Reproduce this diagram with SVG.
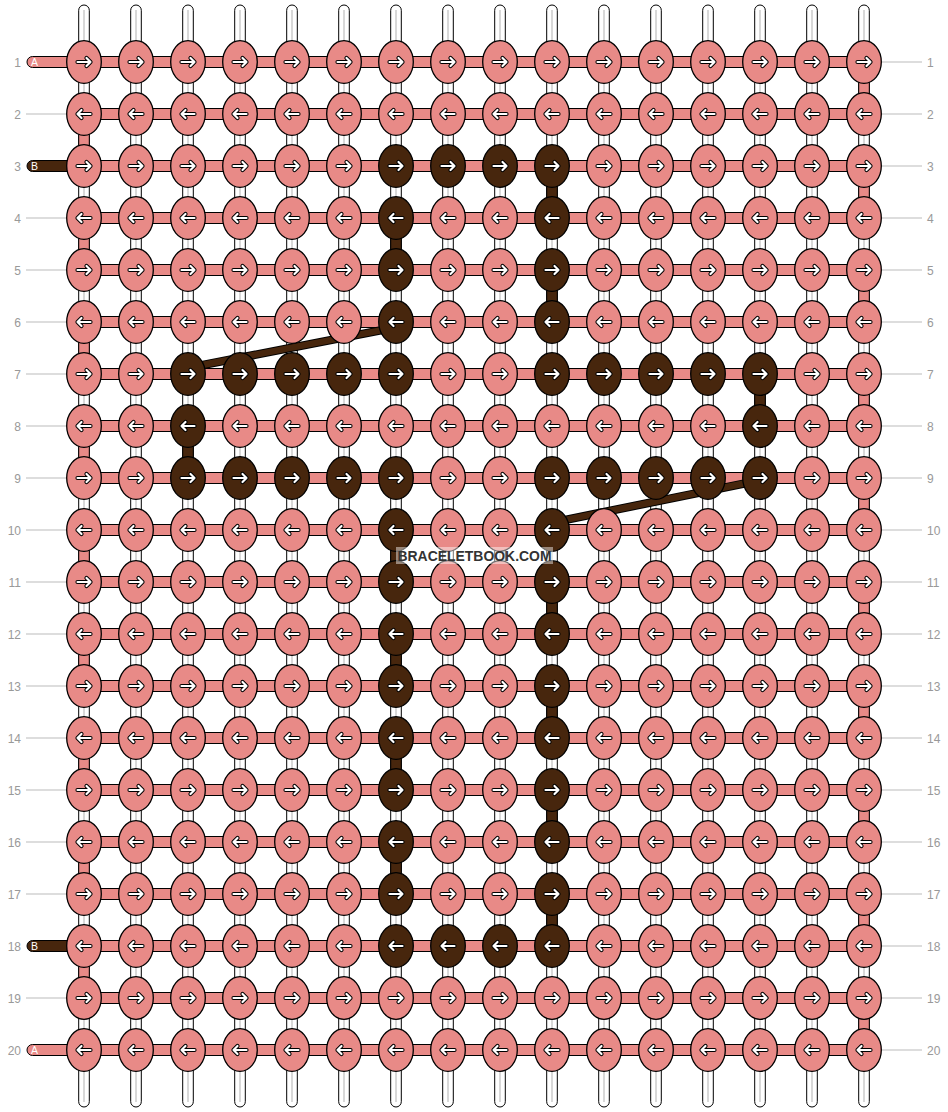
<svg xmlns="http://www.w3.org/2000/svg" xmlns:xlink="http://www.w3.org/1999/xlink" width="948" height="1112" viewBox="0 0 948 1112">
<style>
.kp{fill:#e88a87;stroke:#000;stroke-width:1.3}
.kd{fill:#47260d;stroke:#000;stroke-width:1.3}
.hc{fill:#e88a87;stroke:#000;stroke-width:1}
.vp{fill:#e88a87;stroke:#000;stroke-width:1}
.vd{fill:#47260d;stroke:#000;stroke-width:1}
.wr{fill:#fff;stroke:#000;stroke-width:1}
.wl{stroke:#c8c8c8;stroke-width:1.4}
.gl{stroke:#bbb;stroke-width:1}
.num{font-family:"Liberation Sans",Arial,sans-serif;font-size:12px;fill:#999}
.let{font-family:"Liberation Sans",Arial,sans-serif;font-size:10.5px;fill:#fff}
.ao{fill:none;stroke:#000;stroke-width:4.2;stroke-linecap:round;stroke-linejoin:round}
.ai{fill:none;stroke:#fff;stroke-width:2.2;stroke-linecap:round;stroke-linejoin:round}
</style>
<defs>
<g id="ar"><path class="ao" d="M-6.5,0H6.5M2.5,-4L6.5,0L2.5,4"/><path class="ai" d="M-6.5,0H6.5M2.5,-4L6.5,0L2.5,4"/></g>
<g id="al"><use xlink:href="#ar" transform="scale(-1,1)"/></g>
<g id="pr"><ellipse class="kp" rx="17.3" ry="21.3"/><use xlink:href="#ar"/></g>
<g id="pl"><ellipse class="kp" rx="17.3" ry="21.3"/><use xlink:href="#al"/></g>
<g id="dr"><ellipse class="kd" rx="17.3" ry="21.3"/><use xlink:href="#ar"/></g>
<g id="dl"><ellipse class="kd" rx="17.3" ry="21.3"/><use xlink:href="#al"/></g>
<g id="wp"><rect class="wr" x="-5.3" y="5" width="10.6" height="1102" rx="5.3"/><line class="wl" x1="0" y1="10" x2="0" y2="1102"/></g>
</defs>
<rect width="948" height="1112" fill="#fff"/>
<g id="warps">
<use xlink:href="#wp" x="84"/><use xlink:href="#wp" x="136"/><use xlink:href="#wp" x="188"/><use xlink:href="#wp" x="240"/><use xlink:href="#wp" x="292"/><use xlink:href="#wp" x="344"/><use xlink:href="#wp" x="396"/><use xlink:href="#wp" x="448"/><use xlink:href="#wp" x="500"/><use xlink:href="#wp" x="552"/><use xlink:href="#wp" x="604"/><use xlink:href="#wp" x="656"/><use xlink:href="#wp" x="708"/><use xlink:href="#wp" x="760"/><use xlink:href="#wp" x="812"/><use xlink:href="#wp" x="864"/>
</g>
<g id="labels">
<g class="gl">
<line x1="26" y1="114" x2="67" y2="114"/><line x1="26" y1="218" x2="67" y2="218"/><line x1="26" y1="270" x2="67" y2="270"/><line x1="26" y1="322" x2="67" y2="322"/><line x1="26" y1="374" x2="67" y2="374"/><line x1="26" y1="426" x2="67" y2="426"/><line x1="26" y1="478" x2="67" y2="478"/><line x1="26" y1="530" x2="67" y2="530"/><line x1="26" y1="582" x2="67" y2="582"/><line x1="26" y1="634" x2="67" y2="634"/><line x1="26" y1="686" x2="67" y2="686"/><line x1="26" y1="738" x2="67" y2="738"/><line x1="26" y1="790" x2="67" y2="790"/><line x1="26" y1="842" x2="67" y2="842"/><line x1="26" y1="894" x2="67" y2="894"/><line x1="26" y1="998" x2="67" y2="998"/>
<line x1="881" y1="62" x2="922" y2="62"/><line x1="881" y1="114" x2="922" y2="114"/><line x1="881" y1="166" x2="922" y2="166"/><line x1="881" y1="218" x2="922" y2="218"/><line x1="881" y1="270" x2="922" y2="270"/><line x1="881" y1="322" x2="922" y2="322"/><line x1="881" y1="374" x2="922" y2="374"/><line x1="881" y1="426" x2="922" y2="426"/><line x1="881" y1="478" x2="922" y2="478"/><line x1="881" y1="530" x2="922" y2="530"/><line x1="881" y1="582" x2="922" y2="582"/><line x1="881" y1="634" x2="922" y2="634"/><line x1="881" y1="686" x2="922" y2="686"/><line x1="881" y1="738" x2="922" y2="738"/><line x1="881" y1="790" x2="922" y2="790"/><line x1="881" y1="842" x2="922" y2="842"/><line x1="881" y1="894" x2="922" y2="894"/><line x1="881" y1="946" x2="922" y2="946"/><line x1="881" y1="998" x2="922" y2="998"/><line x1="881" y1="1050" x2="922" y2="1050"/>
</g>
<g class="num" text-anchor="end">
<text x="21" y="66.5">1</text><text x="21" y="118.5">2</text><text x="21" y="170.5">3</text><text x="21" y="222.5">4</text><text x="21" y="274.5">5</text><text x="21" y="326.5">6</text><text x="21" y="378.5">7</text><text x="21" y="430.5">8</text><text x="21" y="482.5">9</text><text x="21" y="534.5">10</text><text x="21" y="586.5">11</text><text x="21" y="638.5">12</text><text x="21" y="690.5">13</text><text x="21" y="742.5">14</text><text x="21" y="794.5">15</text><text x="21" y="846.5">16</text><text x="21" y="898.5">17</text><text x="21" y="950.5">18</text><text x="21" y="1002.5">19</text><text x="21" y="1054.5">20</text>
</g>
<g class="num">
<text x="927" y="66.5">1</text><text x="927" y="118.5">2</text><text x="927" y="170.5">3</text><text x="927" y="222.5">4</text><text x="927" y="274.5">5</text><text x="927" y="326.5">6</text><text x="927" y="378.5">7</text><text x="927" y="430.5">8</text><text x="927" y="482.5">9</text><text x="927" y="534.5">10</text><text x="927" y="586.5">11</text><text x="927" y="638.5">12</text><text x="927" y="690.5">13</text><text x="927" y="742.5">14</text><text x="927" y="794.5">15</text><text x="927" y="846.5">16</text><text x="927" y="898.5">17</text><text x="927" y="950.5">18</text><text x="927" y="1002.5">19</text><text x="927" y="1054.5">20</text>
</g>
</g>
<g id="connectors">
<g id="strands">
<rect class="hc" x="27" y="56.5" width="60" height="11" rx="5.5"/>
<rect class="vd" x="27" y="160.5" width="60" height="11" rx="5.5"/>
<rect class="vd" x="27" y="940.5" width="60" height="11" rx="5.5"/>
<rect class="hc" x="27" y="1044.5" width="60" height="11" rx="5.5"/>
<text class="let" x="31" y="66">A</text><text class="let" x="31" y="170">B</text><text class="let" x="31" y="950">B</text><text class="let" x="31" y="1054">A</text>
</g>
<g id="rows">
<rect class="hc" x="84" y="56.5" width="780" height="11"/><rect class="hc" x="84" y="108.5" width="780" height="11"/><rect class="hc" x="84" y="160.5" width="780" height="11"/><rect class="hc" x="84" y="212.5" width="780" height="11"/><rect class="hc" x="84" y="264.5" width="780" height="11"/><rect class="hc" x="84" y="316.5" width="780" height="11"/><rect class="hc" x="84" y="368.5" width="780" height="11"/><rect class="hc" x="84" y="420.5" width="780" height="11"/><rect class="hc" x="84" y="472.5" width="780" height="11"/><rect class="hc" x="84" y="524.5" width="780" height="11"/><rect class="hc" x="84" y="576.5" width="780" height="11"/><rect class="hc" x="84" y="628.5" width="780" height="11"/><rect class="hc" x="84" y="680.5" width="780" height="11"/><rect class="hc" x="84" y="732.5" width="780" height="11"/><rect class="hc" x="84" y="784.5" width="780" height="11"/><rect class="hc" x="84" y="836.5" width="780" height="11"/><rect class="hc" x="84" y="888.5" width="780" height="11"/><rect class="hc" x="84" y="940.5" width="780" height="11"/><rect class="hc" x="84" y="992.5" width="780" height="11"/><rect class="hc" x="84" y="1044.5" width="780" height="11"/>
</g>
<g id="edges">
<rect class="vp" x="78.7" y="114" width="10.6" height="52"/><rect class="vp" x="78.7" y="218" width="10.6" height="52"/><rect class="vp" x="78.7" y="322" width="10.6" height="52"/><rect class="vp" x="78.7" y="426" width="10.6" height="52"/><rect class="vp" x="78.7" y="530" width="10.6" height="52"/><rect class="vp" x="78.7" y="634" width="10.6" height="52"/><rect class="vp" x="78.7" y="738" width="10.6" height="52"/><rect class="vp" x="78.7" y="842" width="10.6" height="52"/><rect class="vp" x="78.7" y="946" width="10.6" height="52"/>
<rect class="vp" x="858.7" y="62" width="10.6" height="52"/><rect class="vp" x="858.7" y="166" width="10.6" height="52"/><rect class="vp" x="858.7" y="270" width="10.6" height="52"/><rect class="vp" x="858.7" y="374" width="10.6" height="52"/><rect class="vp" x="858.7" y="478" width="10.6" height="52"/><rect class="vp" x="858.7" y="582" width="10.6" height="52"/><rect class="vp" x="858.7" y="686" width="10.6" height="52"/><rect class="vp" x="858.7" y="790" width="10.6" height="52"/><rect class="vp" x="858.7" y="894" width="10.6" height="52"/><rect class="vp" x="858.7" y="998" width="10.6" height="52"/>
</g>
<g id="dark-carries">
<rect class="vd" x="546.7" y="166" width="10.6" height="52"/>
<rect class="vd" x="390.7" y="218" width="10.6" height="52"/>
<rect class="vd" x="546.7" y="270" width="10.6" height="52"/>
<rect class="vd" x="754.7" y="374" width="10.6" height="52"/>
<rect class="vd" x="182.7" y="426" width="10.6" height="52"/>
<rect class="vd" x="390.7" y="530" width="10.6" height="52"/>
<rect class="vd" x="546.7" y="582" width="10.6" height="52"/>
<rect class="vd" x="390.7" y="634" width="10.6" height="52"/>
<rect class="vd" x="546.7" y="686" width="10.6" height="52"/>
<rect class="vd" x="390.7" y="738" width="10.6" height="52"/>
<rect class="vd" x="546.7" y="790" width="10.6" height="52"/>
<rect class="vd" x="390.7" y="842" width="10.6" height="52"/>
<rect class="vd" x="546.7" y="894" width="10.6" height="52"/>
</g>
<g id="diagonals" stroke-linecap="butt">
<line x1="188" y1="367.8" x2="396" y2="327.4" stroke="#000" stroke-width="8.5"/>
<line x1="188" y1="367.8" x2="396" y2="327.4" stroke="#47260d" stroke-width="6.5"/>
<line x1="552" y1="522.6" x2="760" y2="480.3" stroke="#000" stroke-width="8.5"/>
<line x1="552" y1="522.6" x2="760" y2="480.3" stroke="#47260d" stroke-width="6.5"/>
</g>
</g>
<g id="knots">
<g transform="translate(0,62)">
<g id="k1-1"><use xlink:href="#pr" x="84"/></g><g id="k1-2"><use xlink:href="#pr" x="136"/></g><g id="k1-3"><use xlink:href="#pr" x="188"/></g><g id="k1-4"><use xlink:href="#pr" x="240"/></g><g id="k1-5"><use xlink:href="#pr" x="292"/></g><g id="k1-6"><use xlink:href="#pr" x="344"/></g><g id="k1-7"><use xlink:href="#pr" x="396"/></g><g id="k1-8"><use xlink:href="#pr" x="448"/></g><g id="k1-9"><use xlink:href="#pr" x="500"/></g><g id="k1-10"><use xlink:href="#pr" x="552"/></g><g id="k1-11"><use xlink:href="#pr" x="604"/></g><g id="k1-12"><use xlink:href="#pr" x="656"/></g><g id="k1-13"><use xlink:href="#pr" x="708"/></g><g id="k1-14"><use xlink:href="#pr" x="760"/></g><g id="k1-15"><use xlink:href="#pr" x="812"/></g><g id="k1-16"><use xlink:href="#pr" x="864"/></g>
</g>
<g transform="translate(0,114)">
<g id="k2-1"><use xlink:href="#pl" x="84"/></g><g id="k2-2"><use xlink:href="#pl" x="136"/></g><g id="k2-3"><use xlink:href="#pl" x="188"/></g><g id="k2-4"><use xlink:href="#pl" x="240"/></g><g id="k2-5"><use xlink:href="#pl" x="292"/></g><g id="k2-6"><use xlink:href="#pl" x="344"/></g><g id="k2-7"><use xlink:href="#pl" x="396"/></g><g id="k2-8"><use xlink:href="#pl" x="448"/></g><g id="k2-9"><use xlink:href="#pl" x="500"/></g><g id="k2-10"><use xlink:href="#pl" x="552"/></g><g id="k2-11"><use xlink:href="#pl" x="604"/></g><g id="k2-12"><use xlink:href="#pl" x="656"/></g><g id="k2-13"><use xlink:href="#pl" x="708"/></g><g id="k2-14"><use xlink:href="#pl" x="760"/></g><g id="k2-15"><use xlink:href="#pl" x="812"/></g><g id="k2-16"><use xlink:href="#pl" x="864"/></g>
</g>
<g transform="translate(0,166)">
<g id="k3-1"><use xlink:href="#pr" x="84"/></g><g id="k3-2"><use xlink:href="#pr" x="136"/></g><g id="k3-3"><use xlink:href="#pr" x="188"/></g><g id="k3-4"><use xlink:href="#pr" x="240"/></g><g id="k3-5"><use xlink:href="#pr" x="292"/></g><g id="k3-6"><use xlink:href="#pr" x="344"/></g><g id="k3-7"><use xlink:href="#dr" x="396"/></g><g id="k3-8"><use xlink:href="#dr" x="448"/></g><g id="k3-9"><use xlink:href="#dr" x="500"/></g><g id="k3-10"><use xlink:href="#dr" x="552"/></g><g id="k3-11"><use xlink:href="#pr" x="604"/></g><g id="k3-12"><use xlink:href="#pr" x="656"/></g><g id="k3-13"><use xlink:href="#pr" x="708"/></g><g id="k3-14"><use xlink:href="#pr" x="760"/></g><g id="k3-15"><use xlink:href="#pr" x="812"/></g><g id="k3-16"><use xlink:href="#pr" x="864"/></g>
</g>
<g transform="translate(0,218)">
<g id="k4-1"><use xlink:href="#pl" x="84"/></g><g id="k4-2"><use xlink:href="#pl" x="136"/></g><g id="k4-3"><use xlink:href="#pl" x="188"/></g><g id="k4-4"><use xlink:href="#pl" x="240"/></g><g id="k4-5"><use xlink:href="#pl" x="292"/></g><g id="k4-6"><use xlink:href="#pl" x="344"/></g><g id="k4-7"><use xlink:href="#dl" x="396"/></g><g id="k4-8"><use xlink:href="#pl" x="448"/></g><g id="k4-9"><use xlink:href="#pl" x="500"/></g><g id="k4-10"><use xlink:href="#dl" x="552"/></g><g id="k4-11"><use xlink:href="#pl" x="604"/></g><g id="k4-12"><use xlink:href="#pl" x="656"/></g><g id="k4-13"><use xlink:href="#pl" x="708"/></g><g id="k4-14"><use xlink:href="#pl" x="760"/></g><g id="k4-15"><use xlink:href="#pl" x="812"/></g><g id="k4-16"><use xlink:href="#pl" x="864"/></g>
</g>
<g transform="translate(0,270)">
<g id="k5-1"><use xlink:href="#pr" x="84"/></g><g id="k5-2"><use xlink:href="#pr" x="136"/></g><g id="k5-3"><use xlink:href="#pr" x="188"/></g><g id="k5-4"><use xlink:href="#pr" x="240"/></g><g id="k5-5"><use xlink:href="#pr" x="292"/></g><g id="k5-6"><use xlink:href="#pr" x="344"/></g><g id="k5-7"><use xlink:href="#dr" x="396"/></g><g id="k5-8"><use xlink:href="#pr" x="448"/></g><g id="k5-9"><use xlink:href="#pr" x="500"/></g><g id="k5-10"><use xlink:href="#dr" x="552"/></g><g id="k5-11"><use xlink:href="#pr" x="604"/></g><g id="k5-12"><use xlink:href="#pr" x="656"/></g><g id="k5-13"><use xlink:href="#pr" x="708"/></g><g id="k5-14"><use xlink:href="#pr" x="760"/></g><g id="k5-15"><use xlink:href="#pr" x="812"/></g><g id="k5-16"><use xlink:href="#pr" x="864"/></g>
</g>
<g transform="translate(0,322)">
<g id="k6-1"><use xlink:href="#pl" x="84"/></g><g id="k6-2"><use xlink:href="#pl" x="136"/></g><g id="k6-3"><use xlink:href="#pl" x="188"/></g><g id="k6-4"><use xlink:href="#pl" x="240"/></g><g id="k6-5"><use xlink:href="#pl" x="292"/></g><g id="k6-6"><use xlink:href="#pl" x="344"/></g><g id="k6-7"><use xlink:href="#dl" x="396"/></g><g id="k6-8"><use xlink:href="#pl" x="448"/></g><g id="k6-9"><use xlink:href="#pl" x="500"/></g><g id="k6-10"><use xlink:href="#dl" x="552"/></g><g id="k6-11"><use xlink:href="#pl" x="604"/></g><g id="k6-12"><use xlink:href="#pl" x="656"/></g><g id="k6-13"><use xlink:href="#pl" x="708"/></g><g id="k6-14"><use xlink:href="#pl" x="760"/></g><g id="k6-15"><use xlink:href="#pl" x="812"/></g><g id="k6-16"><use xlink:href="#pl" x="864"/></g>
</g>
<g transform="translate(0,374)">
<g id="k7-1"><use xlink:href="#pr" x="84"/></g><g id="k7-2"><use xlink:href="#pr" x="136"/></g><g id="k7-3"><use xlink:href="#dr" x="188"/></g><g id="k7-4"><use xlink:href="#dr" x="240"/></g><g id="k7-5"><use xlink:href="#dr" x="292"/></g><g id="k7-6"><use xlink:href="#dr" x="344"/></g><g id="k7-7"><use xlink:href="#dr" x="396"/></g><g id="k7-8"><use xlink:href="#pr" x="448"/></g><g id="k7-9"><use xlink:href="#pr" x="500"/></g><g id="k7-10"><use xlink:href="#dr" x="552"/></g><g id="k7-11"><use xlink:href="#dr" x="604"/></g><g id="k7-12"><use xlink:href="#dr" x="656"/></g><g id="k7-13"><use xlink:href="#dr" x="708"/></g><g id="k7-14"><use xlink:href="#dr" x="760"/></g><g id="k7-15"><use xlink:href="#pr" x="812"/></g><g id="k7-16"><use xlink:href="#pr" x="864"/></g>
</g>
<g transform="translate(0,426)">
<g id="k8-1"><use xlink:href="#pl" x="84"/></g><g id="k8-2"><use xlink:href="#pl" x="136"/></g><g id="k8-3"><use xlink:href="#dl" x="188"/></g><g id="k8-4"><use xlink:href="#pl" x="240"/></g><g id="k8-5"><use xlink:href="#pl" x="292"/></g><g id="k8-6"><use xlink:href="#pl" x="344"/></g><g id="k8-7"><use xlink:href="#pl" x="396"/></g><g id="k8-8"><use xlink:href="#pl" x="448"/></g><g id="k8-9"><use xlink:href="#pl" x="500"/></g><g id="k8-10"><use xlink:href="#pl" x="552"/></g><g id="k8-11"><use xlink:href="#pl" x="604"/></g><g id="k8-12"><use xlink:href="#pl" x="656"/></g><g id="k8-13"><use xlink:href="#pl" x="708"/></g><g id="k8-14"><use xlink:href="#dl" x="760"/></g><g id="k8-15"><use xlink:href="#pl" x="812"/></g><g id="k8-16"><use xlink:href="#pl" x="864"/></g>
</g>
<g transform="translate(0,478)">
<g id="k9-1"><use xlink:href="#pr" x="84"/></g><g id="k9-2"><use xlink:href="#pr" x="136"/></g><g id="k9-3"><use xlink:href="#dr" x="188"/></g><g id="k9-4"><use xlink:href="#dr" x="240"/></g><g id="k9-5"><use xlink:href="#dr" x="292"/></g><g id="k9-6"><use xlink:href="#dr" x="344"/></g><g id="k9-7"><use xlink:href="#dr" x="396"/></g><g id="k9-8"><use xlink:href="#pr" x="448"/></g><g id="k9-9"><use xlink:href="#pr" x="500"/></g><g id="k9-10"><use xlink:href="#dr" x="552"/></g><g id="k9-11"><use xlink:href="#dr" x="604"/></g><g id="k9-12"><use xlink:href="#dr" x="656"/></g><g id="k9-13"><use xlink:href="#dr" x="708"/></g><g id="k9-14"><use xlink:href="#dr" x="760"/></g><g id="k9-15"><use xlink:href="#pr" x="812"/></g><g id="k9-16"><use xlink:href="#pr" x="864"/></g>
</g>
<g transform="translate(0,530)">
<g id="k10-1"><use xlink:href="#pl" x="84"/></g><g id="k10-2"><use xlink:href="#pl" x="136"/></g><g id="k10-3"><use xlink:href="#pl" x="188"/></g><g id="k10-4"><use xlink:href="#pl" x="240"/></g><g id="k10-5"><use xlink:href="#pl" x="292"/></g><g id="k10-6"><use xlink:href="#pl" x="344"/></g><g id="k10-7"><use xlink:href="#dl" x="396"/></g><g id="k10-8"><use xlink:href="#pl" x="448"/></g><g id="k10-9"><use xlink:href="#pl" x="500"/></g><g id="k10-10"><use xlink:href="#dl" x="552"/></g><g id="k10-11"><use xlink:href="#pl" x="604"/></g><g id="k10-12"><use xlink:href="#pl" x="656"/></g><g id="k10-13"><use xlink:href="#pl" x="708"/></g><g id="k10-14"><use xlink:href="#pl" x="760"/></g><g id="k10-15"><use xlink:href="#pl" x="812"/></g><g id="k10-16"><use xlink:href="#pl" x="864"/></g>
</g>
<g transform="translate(0,582)">
<g id="k11-1"><use xlink:href="#pr" x="84"/></g><g id="k11-2"><use xlink:href="#pr" x="136"/></g><g id="k11-3"><use xlink:href="#pr" x="188"/></g><g id="k11-4"><use xlink:href="#pr" x="240"/></g><g id="k11-5"><use xlink:href="#pr" x="292"/></g><g id="k11-6"><use xlink:href="#pr" x="344"/></g><g id="k11-7"><use xlink:href="#dr" x="396"/></g><g id="k11-8"><use xlink:href="#pr" x="448"/></g><g id="k11-9"><use xlink:href="#pr" x="500"/></g><g id="k11-10"><use xlink:href="#dr" x="552"/></g><g id="k11-11"><use xlink:href="#pr" x="604"/></g><g id="k11-12"><use xlink:href="#pr" x="656"/></g><g id="k11-13"><use xlink:href="#pr" x="708"/></g><g id="k11-14"><use xlink:href="#pr" x="760"/></g><g id="k11-15"><use xlink:href="#pr" x="812"/></g><g id="k11-16"><use xlink:href="#pr" x="864"/></g>
</g>
<g transform="translate(0,634)">
<g id="k12-1"><use xlink:href="#pl" x="84"/></g><g id="k12-2"><use xlink:href="#pl" x="136"/></g><g id="k12-3"><use xlink:href="#pl" x="188"/></g><g id="k12-4"><use xlink:href="#pl" x="240"/></g><g id="k12-5"><use xlink:href="#pl" x="292"/></g><g id="k12-6"><use xlink:href="#pl" x="344"/></g><g id="k12-7"><use xlink:href="#dl" x="396"/></g><g id="k12-8"><use xlink:href="#pl" x="448"/></g><g id="k12-9"><use xlink:href="#pl" x="500"/></g><g id="k12-10"><use xlink:href="#dl" x="552"/></g><g id="k12-11"><use xlink:href="#pl" x="604"/></g><g id="k12-12"><use xlink:href="#pl" x="656"/></g><g id="k12-13"><use xlink:href="#pl" x="708"/></g><g id="k12-14"><use xlink:href="#pl" x="760"/></g><g id="k12-15"><use xlink:href="#pl" x="812"/></g><g id="k12-16"><use xlink:href="#pl" x="864"/></g>
</g>
<g transform="translate(0,686)">
<g id="k13-1"><use xlink:href="#pr" x="84"/></g><g id="k13-2"><use xlink:href="#pr" x="136"/></g><g id="k13-3"><use xlink:href="#pr" x="188"/></g><g id="k13-4"><use xlink:href="#pr" x="240"/></g><g id="k13-5"><use xlink:href="#pr" x="292"/></g><g id="k13-6"><use xlink:href="#pr" x="344"/></g><g id="k13-7"><use xlink:href="#dr" x="396"/></g><g id="k13-8"><use xlink:href="#pr" x="448"/></g><g id="k13-9"><use xlink:href="#pr" x="500"/></g><g id="k13-10"><use xlink:href="#dr" x="552"/></g><g id="k13-11"><use xlink:href="#pr" x="604"/></g><g id="k13-12"><use xlink:href="#pr" x="656"/></g><g id="k13-13"><use xlink:href="#pr" x="708"/></g><g id="k13-14"><use xlink:href="#pr" x="760"/></g><g id="k13-15"><use xlink:href="#pr" x="812"/></g><g id="k13-16"><use xlink:href="#pr" x="864"/></g>
</g>
<g transform="translate(0,738)">
<g id="k14-1"><use xlink:href="#pl" x="84"/></g><g id="k14-2"><use xlink:href="#pl" x="136"/></g><g id="k14-3"><use xlink:href="#pl" x="188"/></g><g id="k14-4"><use xlink:href="#pl" x="240"/></g><g id="k14-5"><use xlink:href="#pl" x="292"/></g><g id="k14-6"><use xlink:href="#pl" x="344"/></g><g id="k14-7"><use xlink:href="#dl" x="396"/></g><g id="k14-8"><use xlink:href="#pl" x="448"/></g><g id="k14-9"><use xlink:href="#pl" x="500"/></g><g id="k14-10"><use xlink:href="#dl" x="552"/></g><g id="k14-11"><use xlink:href="#pl" x="604"/></g><g id="k14-12"><use xlink:href="#pl" x="656"/></g><g id="k14-13"><use xlink:href="#pl" x="708"/></g><g id="k14-14"><use xlink:href="#pl" x="760"/></g><g id="k14-15"><use xlink:href="#pl" x="812"/></g><g id="k14-16"><use xlink:href="#pl" x="864"/></g>
</g>
<g transform="translate(0,790)">
<g id="k15-1"><use xlink:href="#pr" x="84"/></g><g id="k15-2"><use xlink:href="#pr" x="136"/></g><g id="k15-3"><use xlink:href="#pr" x="188"/></g><g id="k15-4"><use xlink:href="#pr" x="240"/></g><g id="k15-5"><use xlink:href="#pr" x="292"/></g><g id="k15-6"><use xlink:href="#pr" x="344"/></g><g id="k15-7"><use xlink:href="#dr" x="396"/></g><g id="k15-8"><use xlink:href="#pr" x="448"/></g><g id="k15-9"><use xlink:href="#pr" x="500"/></g><g id="k15-10"><use xlink:href="#dr" x="552"/></g><g id="k15-11"><use xlink:href="#pr" x="604"/></g><g id="k15-12"><use xlink:href="#pr" x="656"/></g><g id="k15-13"><use xlink:href="#pr" x="708"/></g><g id="k15-14"><use xlink:href="#pr" x="760"/></g><g id="k15-15"><use xlink:href="#pr" x="812"/></g><g id="k15-16"><use xlink:href="#pr" x="864"/></g>
</g>
<g transform="translate(0,842)">
<g id="k16-1"><use xlink:href="#pl" x="84"/></g><g id="k16-2"><use xlink:href="#pl" x="136"/></g><g id="k16-3"><use xlink:href="#pl" x="188"/></g><g id="k16-4"><use xlink:href="#pl" x="240"/></g><g id="k16-5"><use xlink:href="#pl" x="292"/></g><g id="k16-6"><use xlink:href="#pl" x="344"/></g><g id="k16-7"><use xlink:href="#dl" x="396"/></g><g id="k16-8"><use xlink:href="#pl" x="448"/></g><g id="k16-9"><use xlink:href="#pl" x="500"/></g><g id="k16-10"><use xlink:href="#dl" x="552"/></g><g id="k16-11"><use xlink:href="#pl" x="604"/></g><g id="k16-12"><use xlink:href="#pl" x="656"/></g><g id="k16-13"><use xlink:href="#pl" x="708"/></g><g id="k16-14"><use xlink:href="#pl" x="760"/></g><g id="k16-15"><use xlink:href="#pl" x="812"/></g><g id="k16-16"><use xlink:href="#pl" x="864"/></g>
</g>
<g transform="translate(0,894)">
<g id="k17-1"><use xlink:href="#pr" x="84"/></g><g id="k17-2"><use xlink:href="#pr" x="136"/></g><g id="k17-3"><use xlink:href="#pr" x="188"/></g><g id="k17-4"><use xlink:href="#pr" x="240"/></g><g id="k17-5"><use xlink:href="#pr" x="292"/></g><g id="k17-6"><use xlink:href="#pr" x="344"/></g><g id="k17-7"><use xlink:href="#dr" x="396"/></g><g id="k17-8"><use xlink:href="#pr" x="448"/></g><g id="k17-9"><use xlink:href="#pr" x="500"/></g><g id="k17-10"><use xlink:href="#dr" x="552"/></g><g id="k17-11"><use xlink:href="#pr" x="604"/></g><g id="k17-12"><use xlink:href="#pr" x="656"/></g><g id="k17-13"><use xlink:href="#pr" x="708"/></g><g id="k17-14"><use xlink:href="#pr" x="760"/></g><g id="k17-15"><use xlink:href="#pr" x="812"/></g><g id="k17-16"><use xlink:href="#pr" x="864"/></g>
</g>
<g transform="translate(0,946)">
<g id="k18-1"><use xlink:href="#pl" x="84"/></g><g id="k18-2"><use xlink:href="#pl" x="136"/></g><g id="k18-3"><use xlink:href="#pl" x="188"/></g><g id="k18-4"><use xlink:href="#pl" x="240"/></g><g id="k18-5"><use xlink:href="#pl" x="292"/></g><g id="k18-6"><use xlink:href="#pl" x="344"/></g><g id="k18-7"><use xlink:href="#dl" x="396"/></g><g id="k18-8"><use xlink:href="#dl" x="448"/></g><g id="k18-9"><use xlink:href="#dl" x="500"/></g><g id="k18-10"><use xlink:href="#dl" x="552"/></g><g id="k18-11"><use xlink:href="#pl" x="604"/></g><g id="k18-12"><use xlink:href="#pl" x="656"/></g><g id="k18-13"><use xlink:href="#pl" x="708"/></g><g id="k18-14"><use xlink:href="#pl" x="760"/></g><g id="k18-15"><use xlink:href="#pl" x="812"/></g><g id="k18-16"><use xlink:href="#pl" x="864"/></g>
</g>
<g transform="translate(0,998)">
<g id="k19-1"><use xlink:href="#pr" x="84"/></g><g id="k19-2"><use xlink:href="#pr" x="136"/></g><g id="k19-3"><use xlink:href="#pr" x="188"/></g><g id="k19-4"><use xlink:href="#pr" x="240"/></g><g id="k19-5"><use xlink:href="#pr" x="292"/></g><g id="k19-6"><use xlink:href="#pr" x="344"/></g><g id="k19-7"><use xlink:href="#pr" x="396"/></g><g id="k19-8"><use xlink:href="#pr" x="448"/></g><g id="k19-9"><use xlink:href="#pr" x="500"/></g><g id="k19-10"><use xlink:href="#pr" x="552"/></g><g id="k19-11"><use xlink:href="#pr" x="604"/></g><g id="k19-12"><use xlink:href="#pr" x="656"/></g><g id="k19-13"><use xlink:href="#pr" x="708"/></g><g id="k19-14"><use xlink:href="#pr" x="760"/></g><g id="k19-15"><use xlink:href="#pr" x="812"/></g><g id="k19-16"><use xlink:href="#pr" x="864"/></g>
</g>
<g transform="translate(0,1050)">
<g id="k20-1"><use xlink:href="#pl" x="84"/></g><g id="k20-2"><use xlink:href="#pl" x="136"/></g><g id="k20-3"><use xlink:href="#pl" x="188"/></g><g id="k20-4"><use xlink:href="#pl" x="240"/></g><g id="k20-5"><use xlink:href="#pl" x="292"/></g><g id="k20-6"><use xlink:href="#pl" x="344"/></g><g id="k20-7"><use xlink:href="#pl" x="396"/></g><g id="k20-8"><use xlink:href="#pl" x="448"/></g><g id="k20-9"><use xlink:href="#pl" x="500"/></g><g id="k20-10"><use xlink:href="#pl" x="552"/></g><g id="k20-11"><use xlink:href="#pl" x="604"/></g><g id="k20-12"><use xlink:href="#pl" x="656"/></g><g id="k20-13"><use xlink:href="#pl" x="708"/></g><g id="k20-14"><use xlink:href="#pl" x="760"/></g><g id="k20-15"><use xlink:href="#pl" x="812"/></g><g id="k20-16"><use xlink:href="#pl" x="864"/></g>
</g>
</g>
<g id="watermark">
<rect x="396" y="547" width="157" height="17" fill="#fff" fill-opacity="0.45"/>
<text x="474.5" y="561" text-anchor="middle" font-family="'Liberation Sans',Arial,sans-serif" font-size="15" font-weight="bold" fill="#333" textLength="154" lengthAdjust="spacingAndGlyphs">BRACELETBOOK.COM</text>
</g>
</svg>
